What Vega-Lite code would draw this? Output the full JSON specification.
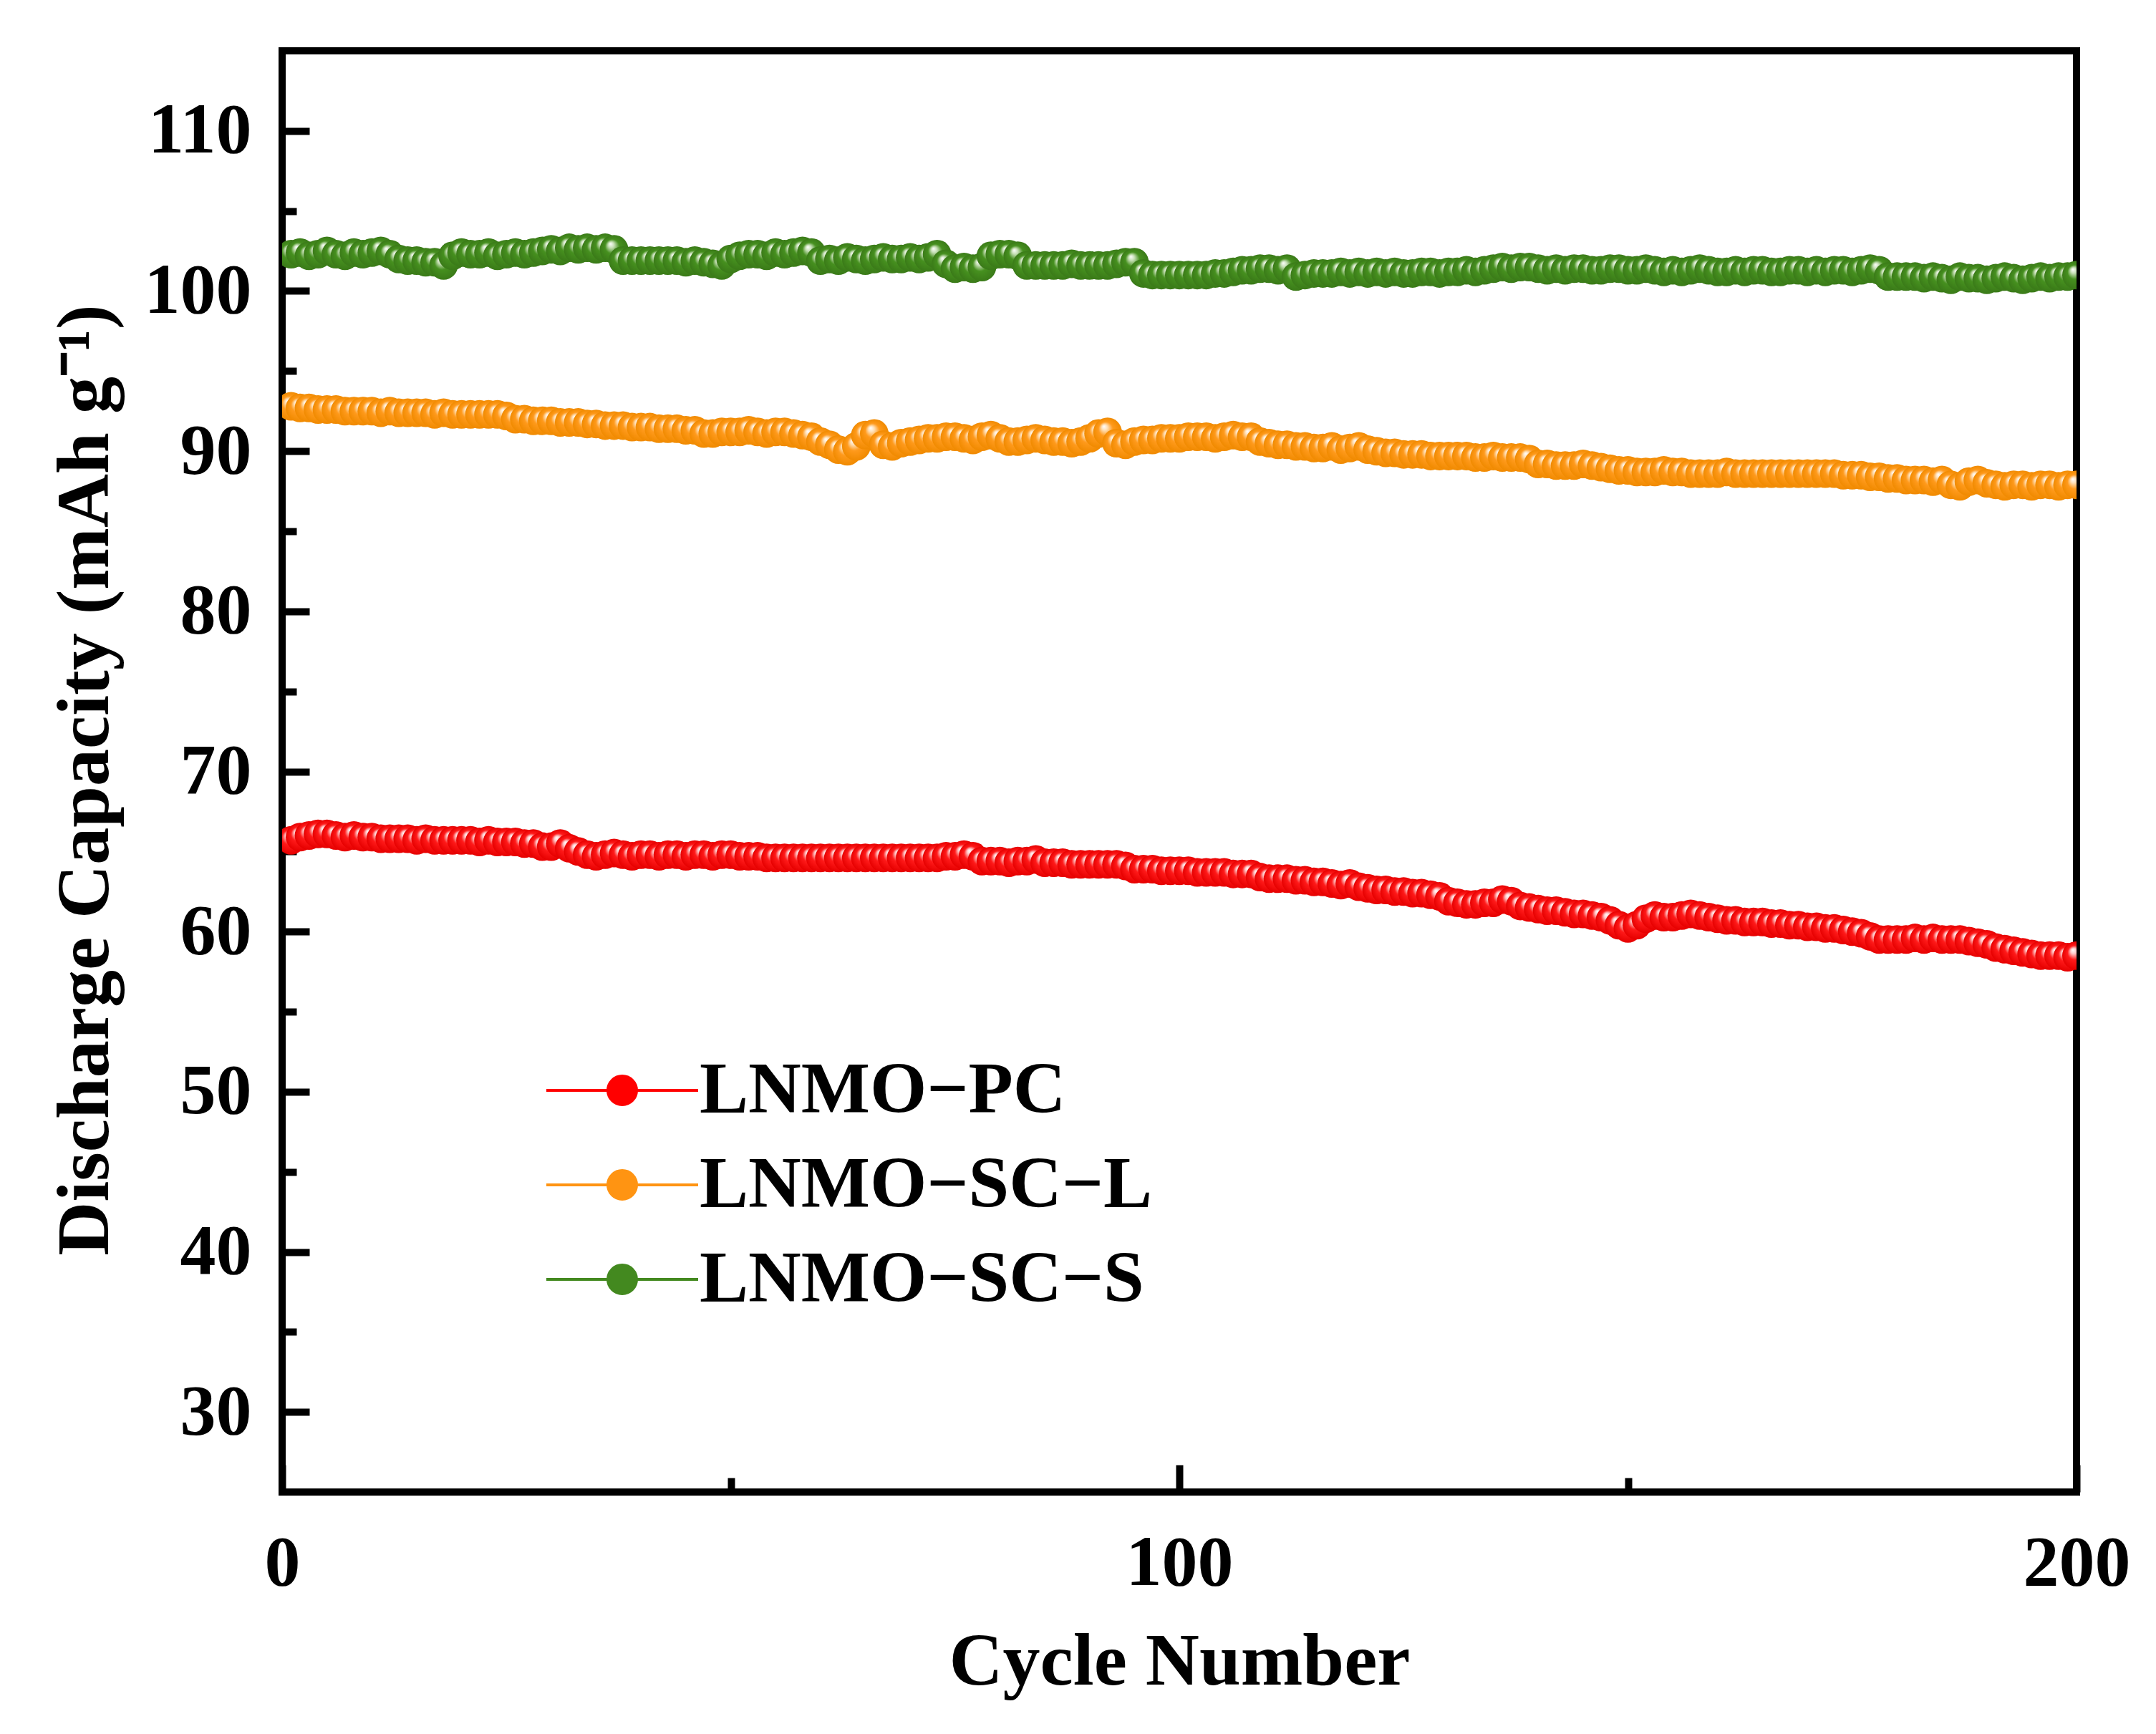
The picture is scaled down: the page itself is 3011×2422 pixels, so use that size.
{
"$schema":"https://vega.github.io/schema/vega-lite/v6.json",
"autosize":{"type":"none"},
"padding":{"left":394,"top":71,"right":111,"bottom":338},
"width":2506,"height":2013,
"background":"white",
"data":{"values":[
{"c":1,"p":65.7,"l":92.8,"s":102.3},{"c":2,"p":65.9,"l":92.7,"s":102.4},{"c":3,"p":66.0,"l":92.7,"s":102.2},{"c":4,"p":66.1,"l":92.6,"s":102.3},{"c":5,"p":66.1,"l":92.6,"s":102.5},
{"c":6,"p":66.0,"l":92.6,"s":102.3},{"c":7,"p":65.9,"l":92.5,"s":102.2},{"c":8,"p":66.0,"l":92.5,"s":102.4},{"c":9,"p":65.9,"l":92.5,"s":102.3},{"c":10,"p":65.9,"l":92.5,"s":102.4},
{"c":11,"p":65.8,"l":92.4,"s":102.5},{"c":12,"p":65.8,"l":92.5,"s":102.3},{"c":13,"p":65.8,"l":92.4,"s":102.0},{"c":14,"p":65.8,"l":92.4,"s":101.9},{"c":15,"p":65.7,"l":92.4,"s":101.9},
{"c":16,"p":65.8,"l":92.4,"s":101.8},{"c":17,"p":65.7,"l":92.3,"s":101.8},{"c":18,"p":65.7,"l":92.4,"s":101.6},{"c":19,"p":65.7,"l":92.3,"s":102.2},{"c":20,"p":65.7,"l":92.3,"s":102.4},
{"c":21,"p":65.7,"l":92.3,"s":102.3},{"c":22,"p":65.6,"l":92.3,"s":102.3},{"c":23,"p":65.7,"l":92.3,"s":102.4},{"c":24,"p":65.6,"l":92.3,"s":102.2},{"c":25,"p":65.6,"l":92.2,"s":102.3},
{"c":26,"p":65.6,"l":92.0,"s":102.4},{"c":27,"p":65.5,"l":92.0,"s":102.3},{"c":28,"p":65.5,"l":91.9,"s":102.4},{"c":29,"p":65.3,"l":91.9,"s":102.5},{"c":30,"p":65.3,"l":91.9,"s":102.6},
{"c":31,"p":65.5,"l":91.8,"s":102.5},{"c":32,"p":65.2,"l":91.8,"s":102.7},{"c":33,"p":65.0,"l":91.8,"s":102.6},{"c":34,"p":64.8,"l":91.7,"s":102.7},{"c":35,"p":64.7,"l":91.7,"s":102.6},
{"c":36,"p":64.8,"l":91.6,"s":102.7},{"c":37,"p":64.9,"l":91.6,"s":102.6},{"c":38,"p":64.8,"l":91.6,"s":101.9},{"c":39,"p":64.7,"l":91.5,"s":101.9},{"c":40,"p":64.8,"l":91.5,"s":101.9},
{"c":41,"p":64.8,"l":91.5,"s":101.9},{"c":42,"p":64.7,"l":91.4,"s":101.9},{"c":43,"p":64.8,"l":91.4,"s":101.9},{"c":44,"p":64.8,"l":91.4,"s":101.9},{"c":45,"p":64.7,"l":91.3,"s":101.8},
{"c":46,"p":64.8,"l":91.3,"s":101.9},{"c":47,"p":64.8,"l":91.1,"s":101.8},{"c":48,"p":64.7,"l":91.1,"s":101.7},{"c":49,"p":64.8,"l":91.2,"s":101.6},{"c":50,"p":64.8,"l":91.2,"s":102.0},
{"c":51,"p":64.7,"l":91.2,"s":102.2},{"c":52,"p":64.7,"l":91.3,"s":102.3},{"c":53,"p":64.7,"l":91.2,"s":102.3},{"c":54,"p":64.6,"l":91.1,"s":102.2},{"c":55,"p":64.6,"l":91.2,"s":102.4},
{"c":56,"p":64.6,"l":91.2,"s":102.3},{"c":57,"p":64.6,"l":91.1,"s":102.4},{"c":58,"p":64.6,"l":91.0,"s":102.5},{"c":59,"p":64.6,"l":90.9,"s":102.4},{"c":60,"p":64.6,"l":90.6,"s":101.9},
{"c":61,"p":64.6,"l":90.4,"s":102.0},{"c":62,"p":64.6,"l":90.1,"s":101.9},{"c":63,"p":64.6,"l":90.0,"s":102.1},{"c":64,"p":64.6,"l":90.3,"s":102.0},{"c":65,"p":64.6,"l":91.0,"s":101.9},
{"c":66,"p":64.6,"l":91.1,"s":102.0},{"c":67,"p":64.6,"l":90.4,"s":102.1},{"c":68,"p":64.6,"l":90.3,"s":102.0},{"c":69,"p":64.6,"l":90.5,"s":102.0},{"c":70,"p":64.6,"l":90.6,"s":102.1},
{"c":71,"p":64.6,"l":90.7,"s":102.0},{"c":72,"p":64.6,"l":90.8,"s":102.1},{"c":73,"p":64.6,"l":90.8,"s":102.3},{"c":74,"p":64.7,"l":90.9,"s":101.7},{"c":75,"p":64.7,"l":90.9,"s":101.4},
{"c":76,"p":64.8,"l":90.8,"s":101.5},{"c":77,"p":64.7,"l":90.7,"s":101.4},{"c":78,"p":64.4,"l":90.9,"s":101.5},{"c":79,"p":64.4,"l":91.0,"s":102.2},{"c":80,"p":64.4,"l":90.8,"s":102.3},
{"c":81,"p":64.3,"l":90.6,"s":102.3},{"c":82,"p":64.4,"l":90.6,"s":102.2},{"c":83,"p":64.4,"l":90.7,"s":101.6},{"c":84,"p":64.5,"l":90.8,"s":101.6},{"c":85,"p":64.3,"l":90.7,"s":101.6},
{"c":86,"p":64.3,"l":90.6,"s":101.6},{"c":87,"p":64.3,"l":90.6,"s":101.6},{"c":88,"p":64.2,"l":90.5,"s":101.7},{"c":89,"p":64.2,"l":90.6,"s":101.6},{"c":90,"p":64.2,"l":90.8,"s":101.6},
{"c":91,"p":64.2,"l":91.1,"s":101.6},{"c":92,"p":64.2,"l":91.2,"s":101.6},{"c":93,"p":64.2,"l":90.5,"s":101.7},{"c":94,"p":64.1,"l":90.4,"s":101.8},{"c":95,"p":63.9,"l":90.6,"s":101.8},
{"c":96,"p":63.9,"l":90.7,"s":101.1},{"c":97,"p":63.9,"l":90.7,"s":101.0},{"c":98,"p":63.8,"l":90.8,"s":101.0},{"c":99,"p":63.8,"l":90.8,"s":101.0},{"c":100,"p":63.8,"l":90.8,"s":101.0},
{"c":101,"p":63.8,"l":90.9,"s":101.0},{"c":102,"p":63.7,"l":90.9,"s":101.0},{"c":103,"p":63.7,"l":90.9,"s":101.0},{"c":104,"p":63.7,"l":90.8,"s":101.1},{"c":105,"p":63.7,"l":90.9,"s":101.1},
{"c":106,"p":63.6,"l":91.0,"s":101.2},{"c":107,"p":63.6,"l":90.9,"s":101.3},{"c":108,"p":63.6,"l":90.9,"s":101.3},{"c":109,"p":63.4,"l":90.6,"s":101.4},{"c":110,"p":63.3,"l":90.5,"s":101.4},
{"c":111,"p":63.3,"l":90.4,"s":101.3},{"c":112,"p":63.3,"l":90.4,"s":101.4},{"c":113,"p":63.2,"l":90.3,"s":100.9},{"c":114,"p":63.2,"l":90.3,"s":101.0},{"c":115,"p":63.1,"l":90.2,"s":101.1},
{"c":116,"p":63.1,"l":90.2,"s":101.1},{"c":117,"p":63.0,"l":90.3,"s":101.1},{"c":118,"p":62.9,"l":90.1,"s":101.2},{"c":119,"p":63.0,"l":90.2,"s":101.1},{"c":120,"p":62.8,"l":90.3,"s":101.2},
{"c":121,"p":62.7,"l":90.1,"s":101.1},{"c":122,"p":62.6,"l":90.0,"s":101.2},{"c":123,"p":62.6,"l":89.9,"s":101.1},{"c":124,"p":62.5,"l":89.9,"s":101.2},{"c":125,"p":62.5,"l":89.8,"s":101.1},
{"c":126,"p":62.4,"l":89.8,"s":101.1},{"c":127,"p":62.4,"l":89.8,"s":101.2},{"c":128,"p":62.3,"l":89.7,"s":101.2},{"c":129,"p":62.2,"l":89.7,"s":101.1},{"c":130,"p":61.9,"l":89.7,"s":101.2},
{"c":131,"p":61.8,"l":89.7,"s":101.2},{"c":132,"p":61.7,"l":89.7,"s":101.3},{"c":133,"p":61.7,"l":89.6,"s":101.2},{"c":134,"p":61.8,"l":89.6,"s":101.3},{"c":135,"p":61.8,"l":89.7,"s":101.4},
{"c":136,"p":62.0,"l":89.6,"s":101.5},{"c":137,"p":61.9,"l":89.6,"s":101.4},{"c":138,"p":61.6,"l":89.6,"s":101.5},{"c":139,"p":61.5,"l":89.5,"s":101.5},{"c":140,"p":61.4,"l":89.2,"s":101.4},
{"c":141,"p":61.3,"l":89.2,"s":101.3},{"c":142,"p":61.3,"l":89.1,"s":101.4},{"c":143,"p":61.2,"l":89.1,"s":101.3},{"c":144,"p":61.1,"l":89.1,"s":101.4},{"c":145,"p":61.1,"l":89.2,"s":101.4},
{"c":146,"p":61.0,"l":89.1,"s":101.3},{"c":147,"p":60.9,"l":89.0,"s":101.3},{"c":148,"p":60.7,"l":88.9,"s":101.4},{"c":149,"p":60.4,"l":88.8,"s":101.4},{"c":150,"p":60.2,"l":88.8,"s":101.3},
{"c":151,"p":60.4,"l":88.7,"s":101.3},{"c":152,"p":60.8,"l":88.7,"s":101.4},{"c":153,"p":61.0,"l":88.7,"s":101.3},{"c":154,"p":60.9,"l":88.8,"s":101.2},{"c":155,"p":60.9,"l":88.7,"s":101.3},
{"c":156,"p":61.0,"l":88.7,"s":101.2},{"c":157,"p":61.1,"l":88.6,"s":101.3},{"c":158,"p":61.0,"l":88.6,"s":101.4},{"c":159,"p":60.9,"l":88.6,"s":101.3},{"c":160,"p":60.8,"l":88.6,"s":101.2},
{"c":161,"p":60.7,"l":88.7,"s":101.2},{"c":162,"p":60.7,"l":88.6,"s":101.3},{"c":163,"p":60.6,"l":88.6,"s":101.2},{"c":164,"p":60.6,"l":88.6,"s":101.3},{"c":165,"p":60.6,"l":88.6,"s":101.3},
{"c":166,"p":60.5,"l":88.6,"s":101.2},{"c":167,"p":60.5,"l":88.6,"s":101.2},{"c":168,"p":60.4,"l":88.6,"s":101.3},{"c":169,"p":60.4,"l":88.6,"s":101.3},{"c":170,"p":60.3,"l":88.6,"s":101.2},
{"c":171,"p":60.3,"l":88.6,"s":101.3},{"c":172,"p":60.2,"l":88.6,"s":101.2},{"c":173,"p":60.2,"l":88.6,"s":101.3},{"c":174,"p":60.1,"l":88.5,"s":101.3},{"c":175,"p":60.0,"l":88.5,"s":101.2},
{"c":176,"p":59.9,"l":88.5,"s":101.3},{"c":177,"p":59.7,"l":88.4,"s":101.4},{"c":178,"p":59.5,"l":88.4,"s":101.3},{"c":179,"p":59.5,"l":88.3,"s":100.9},{"c":180,"p":59.5,"l":88.3,"s":100.9},
{"c":181,"p":59.5,"l":88.2,"s":100.9},{"c":182,"p":59.6,"l":88.2,"s":100.9},{"c":183,"p":59.5,"l":88.2,"s":100.8},{"c":184,"p":59.6,"l":88.1,"s":100.9},{"c":185,"p":59.5,"l":88.2,"s":100.8},
{"c":186,"p":59.5,"l":87.9,"s":100.7},{"c":187,"p":59.5,"l":87.8,"s":100.9},{"c":188,"p":59.4,"l":88.1,"s":100.8},{"c":189,"p":59.3,"l":88.2,"s":100.8},{"c":190,"p":59.2,"l":88.0,"s":100.7},
{"c":191,"p":59.0,"l":87.9,"s":100.8},{"c":192,"p":58.9,"l":87.8,"s":100.9},{"c":193,"p":58.8,"l":87.9,"s":100.8},{"c":194,"p":58.7,"l":87.9,"s":100.7},{"c":195,"p":58.6,"l":87.8,"s":100.8},
{"c":196,"p":58.5,"l":87.9,"s":100.9},{"c":197,"p":58.5,"l":87.9,"s":100.8},{"c":198,"p":58.5,"l":87.8,"s":100.9},{"c":199,"p":58.4,"l":87.9,"s":100.9},{"c":200,"p":58.5,"l":87.9,"s":101.0}
]},
"transform":[{"fold":["p","l","s"],"as":["k","v"]}],
"layer":[
{
"mark":{"type":"line","strokeWidth":4,"clip":true},
"encoding":{
"x":{"field":"c","type":"quantitative","scale":{"domain":[0,200],"nice":false,"zero":false},
"axis":{"orient":"bottom","values":[0,100,200],"tickSize":-38,"labelPadding":88,"title":"Cycle Number","titleX":1253,"titleY":237,"titleBaseline":"middle","titleAlign":"center"}},
"y":{"field":"v","type":"quantitative","scale":{"domain":[25,115],"nice":false,"zero":false},
"axis":{"orient":"left","values":[30,40,50,60,70,80,90,100,110],"tickSize":-38,"labelPadding":81,"title":"Discharge Capacity (mAh g⁻¹)","titleX":-275,"titleY":1018,"titleBaseline":"middle","titleAlign":"center","titleAngle":270}},
"color":{"field":"k","type":"nominal","scale":{"domain":["p","l","s"],"range":["#ff0000","#ff9412","#43891f"]},
"legend":{"orient":"none","legendX":424,"legendY":1401,"title":null,"padding":0,
"symbolType":"M-5.3,0H-1M1,0H5.3M-1,0A1,1,0,1,0,1,0A1,1,0,1,0,-1,0Z","symbolSize":1600,"symbolStrokeWidth":4,
"labelFont":"Liberation Serif","labelFontWeight":"bold","labelFontSize":102,"labelColor":"black","labelOffset":57,"labelLimit":0,"rowPadding":30,
"labelExpr":"datum.label==='p'?'LNMO−PC':(datum.label==='l'?'LNMO−SC−L':'LNMO−SC−S')",
"encode":{"symbols":{"update":{"fill":{"scale":"color","field":"value"},"stroke":{"scale":"color","field":"value"},"opacity":{"value":1}}}}}}
}
},
{
"transform":[{"filter":"datum.k==='p'"}],
"mark":{"type":"point","filled":true,"size":1600,"opacity":1,"strokeWidth":0,"clip":true,
"fill":{"gradient":"radial","x1":0.37,"y1":0.3,"r1":0,"x2":0.5,"y2":0.5,"r2":0.5,"stops":[{"offset":0,"color":"#ffffff"},{"offset":0.2,"color":"#ffc8c8"},{"offset":0.5,"color":"#ff1a1a"},{"offset":1,"color":"#e60000"}]}},
"encoding":{
"x":{"field":"c","type":"quantitative","axis":{"orient":"bottom","values":[50,150],"tickSize":-20,"labels":false,"title":null}},
"y":{"field":"v","type":"quantitative","axis":{"orient":"left","values":[35,45,55,65,75,85,95,105],"tickSize":-20,"labels":false,"title":null}}
}
},
{
"transform":[{"filter":"datum.k==='l'"}],
"mark":{"type":"point","filled":true,"size":1600,"opacity":1,"strokeWidth":0,"clip":true,
"fill":{"gradient":"radial","x1":0.37,"y1":0.3,"r1":0,"x2":0.5,"y2":0.5,"r2":0.5,"stops":[{"offset":0,"color":"#ffffff"},{"offset":0.2,"color":"#ffe0b8"},{"offset":0.5,"color":"#ff9a1c"},{"offset":1,"color":"#f08a00"}]}},
"encoding":{
"x":{"field":"c","type":"quantitative","axis":null},
"y":{"field":"v","type":"quantitative","axis":null}
}
},
{
"transform":[{"filter":"datum.k==='s'"}],
"mark":{"type":"point","filled":true,"size":1600,"opacity":1,"strokeWidth":0,"clip":true,
"fill":{"gradient":"radial","x1":0.37,"y1":0.3,"r1":0,"x2":0.5,"y2":0.5,"r2":0.5,"stops":[{"offset":0,"color":"#ffffff"},{"offset":0.2,"color":"#c8e0b8"},{"offset":0.5,"color":"#46901f"},{"offset":1,"color":"#3a7a18"}]}},
"encoding":{
"x":{"field":"c","type":"quantitative","axis":null},
"y":{"field":"v","type":"quantitative","axis":null}
}
}
],
"resolve":{"axis":{"x":"independent","y":"independent"}},
"config":{
"view":{"stroke":"black","strokeWidth":10},
"axis":{"labelFont":"Liberation Serif","labelFontWeight":"bold","labelFontSize":100,"labelColor":"black","titleFont":"Liberation Serif","titleFontWeight":"bold","titleFontSize":104,"titleColor":"black","domain":false,"grid":false,"tickColor":"black","tickWidth":10,"labelFlush":false,"labelOverlap":false,"labelBound":false}
}
}
